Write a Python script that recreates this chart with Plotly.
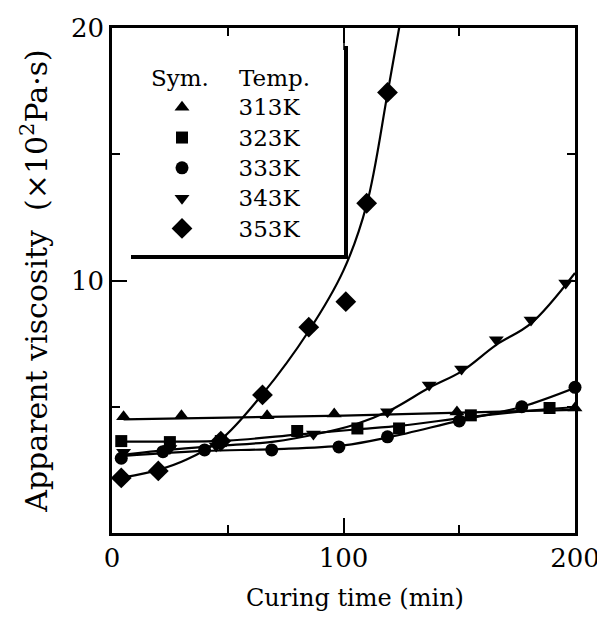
import plotly.graph_objects as go

# ---- data ----
temps = ["313K", "323K", "333K", "343K", "353K"]
symbols = ["triangle-up", "square", "circle", "triangle-down", "diamond"]
marker_sizes = [13, 12, 13, 13, 16]

# measured points
x313 = [5, 30, 67, 96, 149, 200]
y313 = [4.6, 4.64, 4.64, 4.71, 4.79, 4.95]
x323 = [4, 25, 47, 80, 106, 124, 155, 189]
y323 = [3.64, 3.6, 3.64, 4.04, 4.14, 4.14, 4.66, 4.95]
x333 = [4, 22, 40, 69, 98, 119, 150, 177, 200]
y333 = [2.96, 3.22, 3.29, 3.29, 3.41, 3.81, 4.44, 5.0, 5.77]
x343 = [5, 25, 45, 87, 119, 137, 151, 166, 181, 196]
y343 = [3.2, 3.35, 3.45, 3.92, 4.8, 5.86, 6.5, 7.65, 8.44, 9.9]
x353 = [4, 20, 47, 65, 85, 101, 110, 119]
y353 = [2.18, 2.46, 3.64, 5.47, 8.15, 9.16, 13.06, 17.45]

# fitted curves
cx313 = [5, 100, 200]
cy313 = [4.5, 4.65, 4.88]
cx323 = [5, 50, 80, 105, 125, 155, 190, 200]
cy323 = [3.62, 3.66, 3.9, 4.1, 4.25, 4.6, 4.92, 4.98]
cx333 = [5, 40, 70, 100, 120, 150, 177, 200]
cy333 = [3.05, 3.25, 3.32, 3.47, 3.8, 4.45, 5.0, 5.75]
cx343 = [5, 25, 45, 70, 90, 105, 120, 137, 151, 166, 181, 200]
cy343 = [3.1, 3.3, 3.45, 3.62, 3.95, 4.3, 4.85, 5.75, 6.4, 7.45, 8.3, 10.3]
cx353 = [5, 20, 32, 47, 65, 85, 100, 110, 119, 125]
cy353 = [2.2, 2.5, 2.9, 3.7, 5.5, 8.0, 10.4, 13.0, 17.4, 20.5]

x_ticks = [0, 100, 200]
y_ticks = [10, 20]

points = [(x313, y313), (x323, y323), (x333, y333), (x343, y343), (x353, y353)]
curves = [(cx313, cy313), (cx323, cy323), (cx333, cy333), (cx343, cy343), (cx353, cy353)]

FONT = "DejaVu Serif"
fig = go.Figure()

for (cx, cy) in curves:
    fig.add_trace(go.Scatter(x=cx, y=cy, mode="lines", showlegend=False,
                             line=dict(color="black", width=2.2, shape="spline", smoothing=1.0),
                             hoverinfo="skip"))

for name, sym, ms, (px, py) in zip(temps, symbols, marker_sizes, points):
    fig.add_trace(go.Scatter(x=px, y=py, mode="markers",
                             name='<span style="font-size:23px">' + "\u00a0" * 5 + name + "</span>",
                             marker=dict(symbol=sym, size=ms, color="black"),
                             cliponaxis=False))

# page has an 8px body margin; margins chosen so the plot area lands at 112..575 x 28..533
fig.update_layout(
    width=605, height=618,
    margin=dict(l=104, r=38, t=20, b=93, autoexpand=False),
    paper_bgcolor="white", plot_bgcolor="white",
    font=dict(family=FONT, color="black", size=24),
    showlegend=True,
    legend=dict(x=0.108, y=0.883, xanchor="left", yanchor="top",
                bgcolor="rgba(0,0,0,0)", font=dict(family=FONT, size=21, color="black"),
                tracegroupgap=0),
    xaxis=dict(range=[0, 200], tickvals=x_ticks, ticks="inside", ticklen=15,
               tickwidth=2, tickcolor="black", showline=True, linewidth=2.5, linecolor="black",
               mirror="ticks", showgrid=False, zeroline=False, automargin=False,
               tickfont=dict(family=FONT, size=26, color="black"),
               minor=dict(tickvals=[50, 150], ticks="inside", ticklen=8, tickwidth=2, tickcolor="black")),
    yaxis=dict(range=[0, 20], tickvals=y_ticks, ticks="inside", ticklen=15,
               tickwidth=2, tickcolor="black", showline=True, linewidth=2.5, linecolor="black",
               mirror="ticks", showgrid=False, zeroline=False, automargin=False,
               tickfont=dict(family=FONT, size=26, color="black"),
               minor=dict(tickvals=[5, 15], ticks="inside", ticklen=8, tickwidth=2, tickcolor="black"),
               title=dict(text="Apparent viscosity  (×10<sup>2</sup>Pa·s)",
                          font=dict(family=FONT, size=30, color="black"))),
)

def px2paper_x(p):
    return (p - 112) / 463.0

def px2paper_y(p):
    return (533 - p) / 505.0

# x-axis title (slightly right of centre, as in the reference)
fig.add_annotation(xref="paper", yref="paper", x=px2paper_x(355), y=px2paper_y(598),
                   text="Curing time (min)", showarrow=False, xanchor="center", yanchor="middle",
                   font=dict(family=FONT, size=24, color="black"))

# legend header
fig.add_annotation(xref="paper", yref="paper", x=0.147, y=0.901, text="Sym.", showarrow=False,
                   xanchor="center", yanchor="middle", font=dict(family=FONT, size=23, color="black"))
fig.add_annotation(xref="paper", yref="paper", x=0.27, y=0.901, text="Temp.", showarrow=False,
                   xanchor="left", yanchor="middle", font=dict(family=FONT, size=23, color="black"))

# legend frame (thin top-right edge + thick shadow lines)
fig.add_shape(type="line", xref="paper", yref="paper",
              x0=px2paper_x(344), x1=px2paper_x(344), y0=1.0, y1=px2paper_y(50),
              line=dict(color="black", width=1.5))
fig.add_shape(type="line", xref="paper", yref="paper",
              x0=px2paper_x(346), x1=px2paper_x(346), y0=px2paper_y(46), y1=px2paper_y(259),
              line=dict(color="black", width=4))
fig.add_shape(type="line", xref="paper", yref="paper",
              x0=px2paper_x(131), x1=px2paper_x(348), y0=px2paper_y(257), y1=px2paper_y(257),
              line=dict(color="black", width=4))

fig.write_html("out.html")
